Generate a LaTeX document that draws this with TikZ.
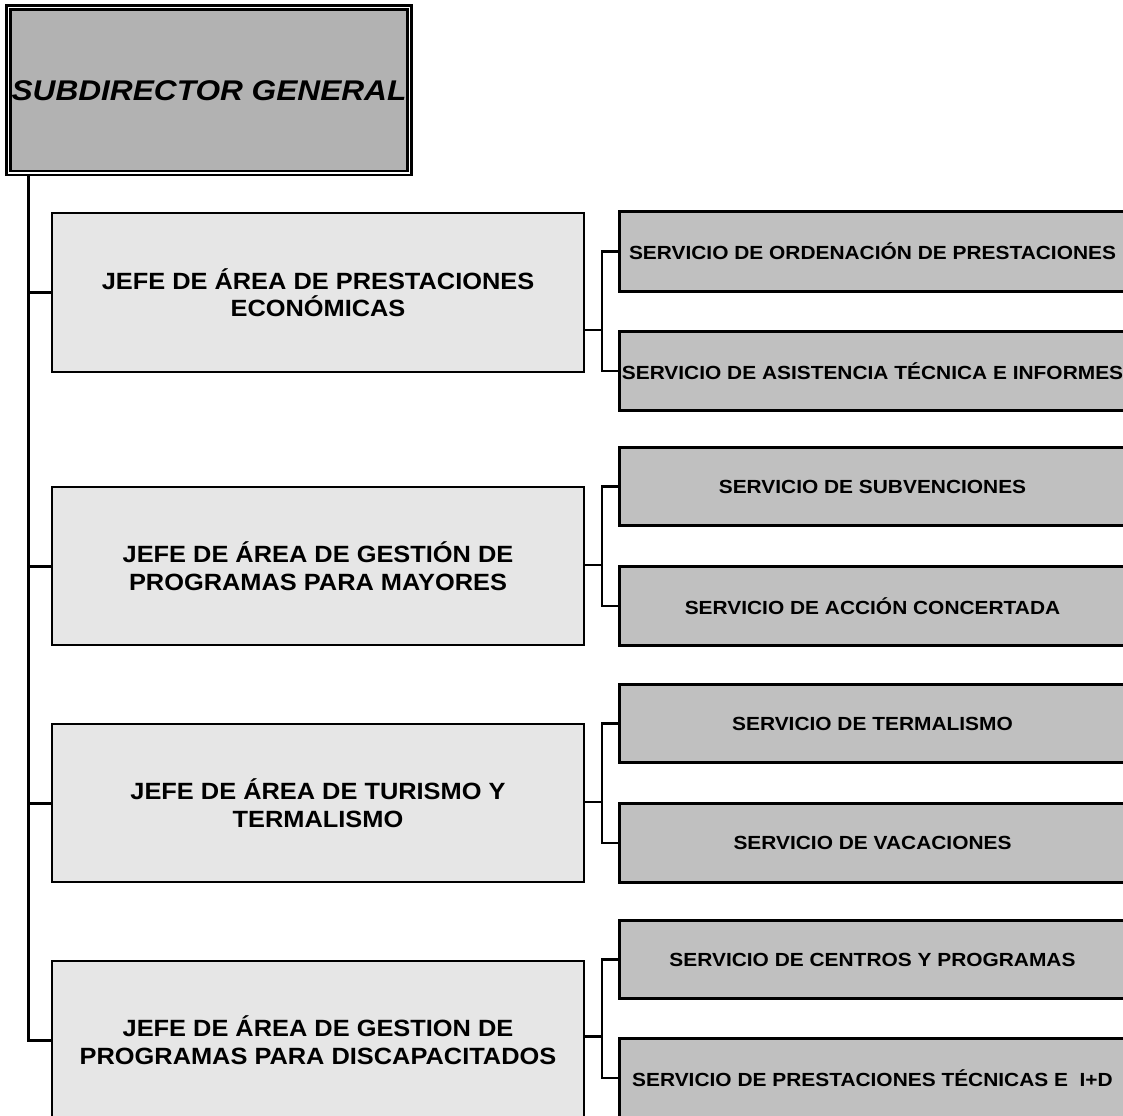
\documentclass[tikz,border=0pt]{standalone}
\usepackage{fontspec}
\usepackage{graphicx}
\setmainfont{Liberation Sans}
\newcommand{\hsT}[1]{\scalebox{1.11}[1]{#1}}
\newcommand{\hsJ}[1]{\scalebox{1.08}[1]{#1}}
\newcommand{\hsS}[1]{\scalebox{1.10}[1]{#1}}
\definecolor{topgray}{HTML}{B2B2B2}
\definecolor{lightgray}{HTML}{E6E6E6}
\definecolor{midgray}{HTML}{C0C0C0}
\tikzset{
  topbox/.style={draw, fill=topgray, double=white, double distance=1.5pt, line width=2.6pt,
    inner sep=0pt, minimum width=401pt, minimum height=165.5pt,
    font=\fontsize{28.5}{31}\selectfont\bfseries\itshape},
  jefebox/.style={draw, fill=lightgray, line width=2.2pt, inner sep=0pt,
    minimum width=532pt, minimum height=158pt, align=center,
    font=\fontsize{23.5}{27.5}\selectfont\bfseries},
  servbox/.style={draw, fill=midgray, line width=3pt, inner sep=0pt,
    minimum width=507pt, minimum height=78.5pt,
    font=\fontsize{19}{21}\selectfont\bfseries},
  trunk/.style={line width=3pt},
  bracket/.style={line width=2.2pt},
}
\begin{document}
\begin{tikzpicture}[x=1pt, y=-1pt]
\useasboundingbox (0,0) rectangle (1123,1115);
\clip (0,0) rectangle (1123,1115);
\fill[white] (0,0) rectangle (1123,1115);

\node[topbox] (sg) at (209,90.3) {\hsT{SUBDIRECTOR GENERAL}};

\node[jefebox, minimum height=159pt] (j1) at (318,292.5) {\hsJ{JEFE DE ÁREA DE PRESTACIONES}\\\hsJ{ECONÓMICAS}};
\node[jefebox] (j2) at (318,566) {\hsJ{JEFE DE ÁREA DE GESTIÓN DE}\\\hsJ{PROGRAMAS PARA MAYORES}};
\node[jefebox] (j3) at (318,803) {\hsJ{JEFE DE ÁREA DE TURISMO Y}\\\hsJ{TERMALISMO}};
\node[jefebox] (j4) at (318,1040) {\hsJ{JEFE DE ÁREA DE GESTION DE}\\\hsJ{PROGRAMAS PARA DISCAPACITADOS}};

\node[servbox, minimum height=79pt] (s1) at (872.5,251.5) {\hsS{SERVICIO DE ORDENACIÓN DE PRESTACIONES}};
\node[servbox] (s2) at (872.5,371) {\hsS{SERVICIO DE ASISTENCIA TÉCNICA E INFORMES}};
\node[servbox] (s3) at (872.5,486.5) {\hsS{SERVICIO DE SUBVENCIONES}};
\node[servbox] (s4) at (872.5,606) {\hsS{SERVICIO DE ACCIÓN CONCERTADA}};
\node[servbox] (s5) at (872.5,723.5) {\hsS{SERVICIO DE TERMALISMO}};
\node[servbox] (s6) at (872.5,843) {\hsS{SERVICIO DE VACACIONES}};
\node[servbox] (s7) at (872.5,959.5) {\hsS{SERVICIO DE CENTROS Y PROGRAMAS}};
\node[servbox, minimum height=80pt] (s8) at (872.5,1078) {\hsS{SERVICIO DE PRESTACIONES TÉCNICAS E\ \ I+D}};

% trunk
\coordinate (tr) at (28,174);
\draw[trunk] (tr) |- (j4.west);
\foreach \j in {j1,j2,j3} {
  \draw[trunk] (tr |- \j.west) -- (\j.west);
}

% brackets
\coordinate (bx) at (602,0);
\foreach \j/\a/\b in {j1/s1/s2, j2/s3/s4, j3/s5/s6, j4/s7/s8} {
  \draw[bracket] (\j.east |- \b.north) -- (bx |- \b.north);
  \draw[bracket] (\a.west) -| (bx |- \b.west) -- (\b.west);
}
\end{tikzpicture}
\end{document}
